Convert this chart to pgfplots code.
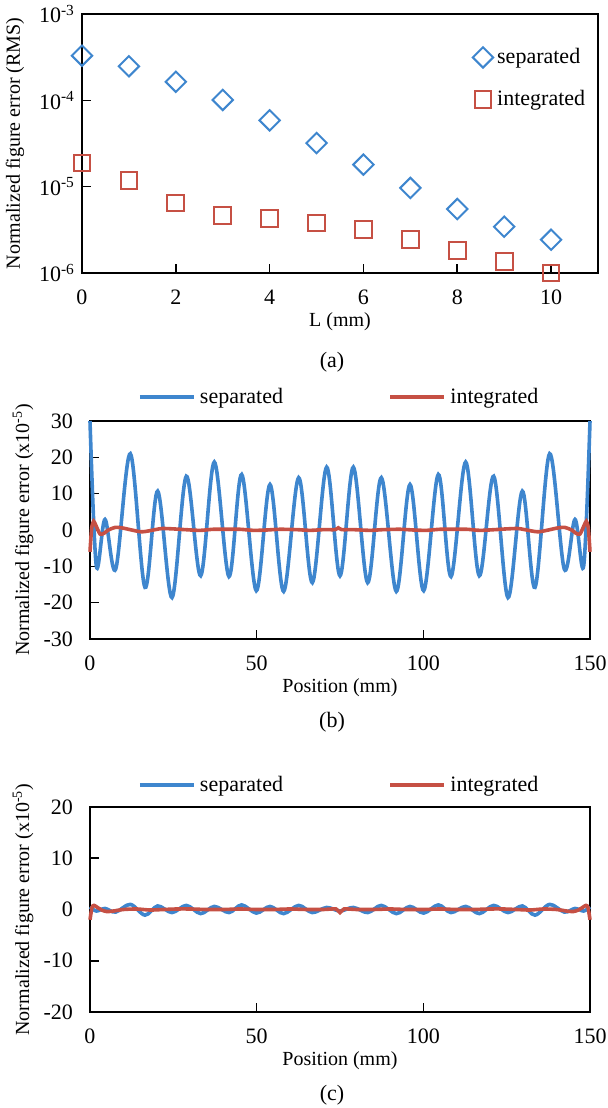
\documentclass[border=0pt]{standalone}
\usepackage{fontspec}
\setmainfont{Liberation Serif}
\usepackage{pgfplots}
\pgfplotsset{compat=1.18}
\definecolor{sepblue}{RGB}{62,134,206}
\definecolor{intred}{RGB}{198,80,68}

\pgfplotsset{
  panel/.style={
    scale only axis, anchor=south west, clip=false,
    axis line style={line width=0.9pt},
    tick align=inside, xtick pos=left, ytick pos=left,
    major tick length=4.5pt,
    every tick/.style={black, line width=0.8pt},
    /pgf/number format/assume math mode=true,
    tick label style={font=\fontsize{11}{13}\selectfont},
    label style={font=\fontsize{11}{13}\selectfont},
    xticklabel style={yshift=-5pt},
    every axis y label/.style={rotate=90, anchor=center},
    every axis x label/.style={anchor=center},
  },
  linepanel/.style={
    panel, xmin=0, xmax=150, xtick={0,50,100,150},
    yticklabel style={xshift=-5pt},
    ylabel={Normalized figure error (x10\textsuperscript{-5})},
    xlabel={Position (mm)},
    legend columns=2,
    legend image code/.code={\draw[##1, line width=2.2pt] (0pt,0pt) -- (27pt,0pt);},
    legend style={draw=none, fill=none, anchor=center,
      font=\fontsize{11}{13}\selectfont,
      /tikz/every even column/.append style={column sep=50.5pt}},
  },
}

\begin{document}
\begin{tikzpicture}
\useasboundingbox (0,0) rectangle (304pt,554pt);

% (a) RMS error against L
\begin{axis}[panel, name=pa, at={(41pt,417.5pt)}, width=258pt, height=129.5pt,
  xmin=0, xmax=11, xtick={0,2,4,6,8,10},
  ymode=log, ymin=1e-6, ymax=1e-3,
  ytick={1e-6,1e-5,1e-4,1e-3},
  yticklabels={10\textsuperscript{-6},10\textsuperscript{-5},10\textsuperscript{-4},10\textsuperscript{-3}},
  yminorticks=false,
  xlabel={L (mm)}, x label style={at={(axis description cs:0.5,-0.189)}},
  ylabel={Normalized figure error (RMS)}, y label style={at={(axis description cs:-0.13,0.5)}},
  legend image code/.code={\draw[#1] plot[only marks] coordinates {(0pt,0pt)};},
  legend style={draw=none, fill=none, at={(axis description cs:0.745,0.9)}, anchor=north west,
    font=\fontsize{11}{13}\selectfont, row sep=8pt},
  legend cell align=left,
]
\addplot[only marks, mark=square, mark size=3.6pt, mark options={rotate=45, line width=1pt}, color=sepblue]
  coordinates {(0,3.29e-4) (1,2.48e-4) (2,1.64e-4) (3,1.01e-4) (4,5.86e-5) (5,3.2e-5)
               (6,1.80e-5) (7,9.66e-6) (8,5.51e-6) (9,3.44e-6) (10,2.43e-6)};
\addplot[only marks, mark=square, mark size=4.2pt, mark options={line width=1pt}, color=intred]
  coordinates {(0,1.88e-5) (1,1.17e-5) (2,6.47e-6) (3,4.62e-6) (4,4.26e-6) (5,3.79e-6)
               (6,3.17e-6) (7,2.43e-6) (8,1.83e-6) (9,1.37e-6) (10,1.0e-6)};
\legend{separated, integrated}
\end{axis}
\node at ([xshift=-4pt, yshift=-44.5pt]pa.south) {\fontsize{11}{13}\selectfont(a)};

% (b) separated method
\begin{axis}[linepanel, name=pb, at={(45pt,234.5pt)}, width=250pt, height=109pt,
  ymin=-30, ymax=30, ytick={-30,-20,...,30},
  x label style={at={(axis description cs:0.5,-0.225)}},
  y label style={at={(axis description cs:-0.134,0.5)}},
  legend style={at={(axis description cs:0.5,1)}, yshift=12pt},
]
\addplot[sepblue, line width=1.8pt, smooth, tension=0.55] coordinates {
  (0,30) (1.9,-9.9) (4.5,2.9) (7.7,-10.8) (12.1,21) (16.5,-15.8) (20.3,10.7) (24.6,-18.6)
  (28.9,14.8) (33.2,-12.6) (37.3,18.7) (41.7,-12.8) (45.5,15.3) (49.9,-16.7) (54.0,12.5)
  (58.1,-16.9) (62.6,14.4) (66.7,-14.5) (71.0,17.3) (75.0,-12.6) (79.0,17.3) (83.3,-14.5)
  (87.4,14.4) (91.9,-16.9) (96.0,12.5) (100.1,-16.7) (104.5,15.3) (108.3,-12.8) (112.7,18.7)
  (116.8,-12.6) (121.1,14.8) (125.4,-18.6) (129.7,10.7) (133.5,-15.8) (137.9,21) (142.3,-10.8)
  (145.5,2.9) (148.1,-9.9) (150,30)};
\addplot[intred, line width=1.8pt, smooth, tension=0.45] coordinates {
  (0,-6) (0.5,0.5) (1.1,2.4) (1.8,1.2) (3.0,-1.1) (4.2,-0.9) (5.5,0) (7.5,0.7) (9.5,0.6)
  (12.5,0) (15.5,-0.5) (18.5,-0.1) (21.5,0.4) (25,0.3) (28.5,0.1) (33,-0.1) (37,0.2) (41,0.2)
  (45,0.2) (49,-0.1) (53,0) (57,0.2) (62,0.1) (66,-0.1) (70,0.1) (73.5,0.1) (74.5,0.6)
  (75.5,0.1) (79,0.1) (84,-0.1) (88,0.1) (93,0.2) (97,0) (101,-0.1) (105,0.2) (109,0.2)
  (113,0.2) (117,-0.1) (121.5,0.1) (125,0.3) (128.5,0.4) (131.5,-0.1) (134.5,-0.5)
  (137.5,0) (140.5,0.6) (142.5,0.7) (144.5,0) (145.8,-0.9) (147,-1.1) (148.2,1.2)
  (148.9,2.4) (149.5,0.5) (150,-6)};
\legend{separated, integrated}
\end{axis}
\node at ([xshift=-4pt, yshift=-41.5pt]pb.south) {\fontsize{11}{13}\selectfont(b)};

% (c) integrated method
\begin{axis}[linepanel, name=pc, at={(45pt,48pt)}, width=250pt, height=102.5pt,
  ymin=-20, ymax=20, ytick={-20,-10,...,20},
  x label style={at={(axis description cs:0.5,-0.239)}},
  y label style={at={(axis description cs:-0.134,0.5)}},
  legend style={at={(axis description cs:0.5,1)}, yshift=11pt},
]
\addplot[sepblue, line width=1.8pt, smooth, tension=0.55] coordinates {
  (0,0.5) (1.9,-0.3) (4.5,0.2) (7.7,-0.5) (12.1,1.0) (16.5,-1.1) (20.3,0.7) (24.6,-0.6)
  (28.9,0.8) (33.2,-0.8) (37.3,0.6) (41.7,-0.6) (45.5,0.9) (49.9,-0.7) (54.0,0.6)
  (58.1,-0.8) (62.6,0.8) (66.7,-0.6) (71.0,0.4) (75.0,-0.3) (79.0,0.4) (83.3,-0.6)
  (87.4,0.8) (91.9,-0.8) (96.0,0.6) (100.1,-0.7) (104.5,0.9) (108.3,-0.6) (112.7,0.6)
  (116.8,-0.8) (121.1,0.8) (125.4,-0.6) (129.7,0.7) (133.5,-1.1) (137.9,1.0) (142.3,-0.5)
  (145.5,0.2) (148.1,-0.3) (150,0.5)};
\addplot[intred, line width=1.8pt, smooth, tension=0.45] coordinates {
  (0,-2) (0.6,0.4) (1.2,0.8) (2,0.5) (3.5,-0.1) (5,-0.4) (7,-0.3) (10,0) (14,0.1) (18,-0.1)
  (22,0) (26,0.1) (30,0.1) (35,0) (40,0) (45,0.1) (50,0) (55,0) (60,0.1) (65,0) (70,0)
  (73.8,0.1) (75,-0.6) (76.2,0.1) (80,0) (85,0) (90,0.1) (95,0) (100,0) (105,0.1) (110,0)
  (115,0) (120,0.1) (124,0.1) (128,0) (132,-0.1) (136,0.1) (140,0) (143,-0.3) (145,-0.4)
  (146.5,-0.1) (148,0.5) (148.8,0.8) (149.4,0.4) (150,-2)};
\legend{separated, integrated}
\end{axis}
\node at ([xshift=-4pt, yshift=-41.5pt]pc.south) {\fontsize{11}{13}\selectfont(c)};
\end{tikzpicture}
\end{document}
